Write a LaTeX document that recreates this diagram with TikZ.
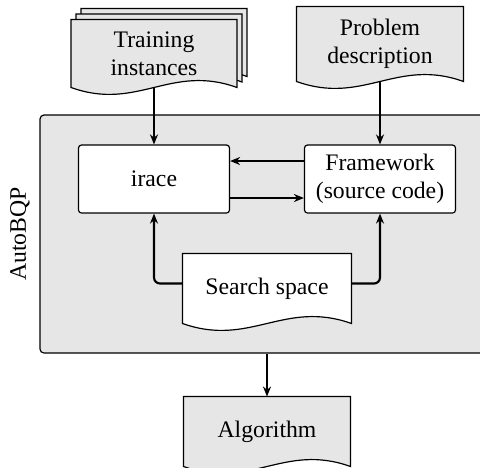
\documentclass[tikz,border=0pt]{standalone}
\usepackage{fontspec}
\setmainfont{Liberation Serif}
\usepackage{tikz}
\usetikzlibrary{arrows.meta,calc,fit,backgrounds}
\definecolor{docgray}{HTML}{E6E6E6}
\definecolor{ink}{HTML}{000000}
\newcommand{\px}{0.422pt}
% outline of a document sheet under a named node
\newcommand{\docpath}[1]{(#1.north west) -- (#1.north east) -- (#1.south east)
  .. controls ($(#1.south east)!0.4!(#1.south west)+(0,-24)$) and ($(#1.south east)!0.6!(#1.south west)+(0,24)$) .. (#1.south west) -- cycle}

\begin{document}
\begin{tikzpicture}[x=\px,y=-\px,every node/.style={text=ink},
  box/.style={draw,line width=0.5pt,rounded corners=3*\px,fill=white,align=center,minimum width=151*\px,minimum height=68*\px},
  doc/.style={inner sep=0pt,align=center},
  sheet/.style={draw,line width=0.5pt,fill=docgray},
  a/.style={-{Stealth[length=10*\px,width=8*\px]},line width=0.9pt}]
  \useasboundingbox (0,0) rectangle (480,467);
  \node[box] (irace) at (154,179) {irace};
  \node[box] (frame) at (380,179) {Framework\\(source code)};
  \node[doc,minimum width=165*\px,minimum height=67*\px] (train) at (154,53.5) {Training\\instances};
  \foreach \i in {1,2}
    \node[doc,minimum width=165*\px,minimum height=67*\px] (train\i) at ($(train)+(5*\i,-5.5*\i)$) {};
  \node[doc,minimum width=166*\px,minimum height=74*\px] (prob) at (380,44) {Problem\\description};
  \node[doc,minimum width=168*\px,minimum height=69*\px] (search) at (267,288.5) {Search space};
  \node[doc,minimum width=166*\px,minimum height=69*\px] (algo) at (267,431.5) {Algorithm};
  \node[rotate=90] (autolbl) at (20,234) {AutoBQP};
  \begin{scope}[on background layer]
    \node[draw,line width=0.5pt,fill=docgray,rounded corners=4*\px,inner sep=0pt,fit={(40,115) (520,353)}] (auto) {};
    \foreach \n in {train2,train1,train,prob,algo}
      \draw[sheet] \docpath{\n};
    \draw[sheet,fill=white] \docpath{search};
  \end{scope}
  \draw[a] (train) -- (irace);
  \draw[a] (prob) -- (frame);
  \draw[a] ([yshift=18*\px]frame.west) -- ([yshift=18*\px]irace.east);
  \draw[a] ([yshift=-19*\px]irace.east) -- ([yshift=-19*\px]frame.west);
  \draw[a,rounded corners=6*\px] ([yshift=5*\px]search.west) -| (irace);
  \draw[a,rounded corners=6*\px] ([yshift=5*\px]search.east) -| (frame);
  \draw[a] (auto.south -| algo.north) -- (algo);
\end{tikzpicture}
\end{document}
